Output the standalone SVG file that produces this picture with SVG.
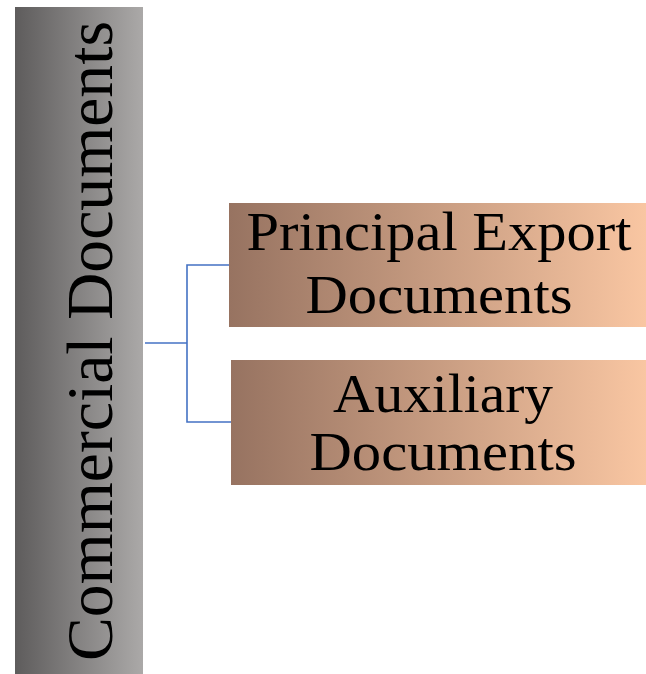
<svg xmlns="http://www.w3.org/2000/svg" width="646" height="674" viewBox="0 0 646 674">
<defs>
<linearGradient id="gGray" x1="0" y1="0" x2="1" y2="0">
<stop offset="0" stop-color="#5e5c5c"/>
<stop offset="1" stop-color="#aba9a8"/>
</linearGradient>
<linearGradient id="gBrown" x1="0" y1="0" x2="1" y2="0">
<stop offset="0" stop-color="#977361"/>
<stop offset="1" stop-color="#f9c6a2"/>
</linearGradient>
</defs>
<style>
.lbl{font-family:"Liberation Serif","Times New Roman",serif;fill:#000;text-anchor:middle}
.conn{fill:none;stroke:#4472c4;stroke-width:1.6}
</style>
<rect width="646" height="674" fill="#fff"/>
<g id="connectors">
<polyline class="conn" points="145,343 187,343"/>
<polyline class="conn" points="229,265 187,265 187,422 231,422"/>
</g>
<g id="commercial">
<rect x="15" y="7" width="128" height="667" fill="url(#gGray)"/>
<text class="lbl" font-size="66" transform="translate(112,341) rotate(-90)" x="0" y="0" textLength="640" lengthAdjust="spacingAndGlyphs">Commercial Documents</text>
</g>
<g id="principal">
<rect x="229" y="203" width="417" height="124" fill="url(#gBrown)"/>
<text class="lbl" font-size="55" x="439" y="250" textLength="385" lengthAdjust="spacingAndGlyphs">Principal Export</text>
<text class="lbl" font-size="55" x="439" y="313" textLength="267" lengthAdjust="spacingAndGlyphs">Documents</text>
</g>
<g id="auxiliary">
<rect x="231" y="360" width="415" height="125" fill="url(#gBrown)"/>
<text class="lbl" font-size="55" x="443" y="412" textLength="220" lengthAdjust="spacingAndGlyphs">Auxiliary</text>
<text class="lbl" font-size="55" x="443" y="470" textLength="267" lengthAdjust="spacingAndGlyphs">Documents</text>
</g>
</svg>
